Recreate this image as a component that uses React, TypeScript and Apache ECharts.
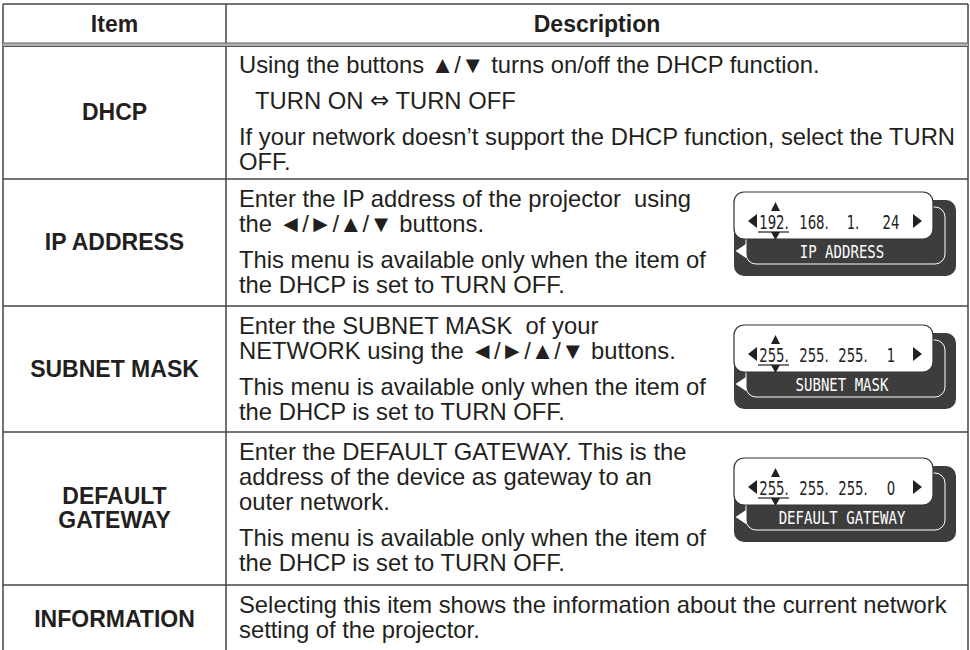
import React, { useEffect, useRef } from "react";
import * as echarts from "echarts";

const headers = ["Item", "Description"];
const itemLabels = ["DHCP", "IP ADDRESS", "SUBNET MASK", "DEFAULT\nGATEWAY", "INFORMATION"];
const rowBounds = [46, 179, 306, 432, 585, 660];

const descDHCP = [
  ["Using the buttons ▲/▼ turns on/off the DHCP function."],
  ["  TURN ON {a|⇔} TURN OFF"],
  ["If your network doesn’t support the DHCP function, select the TURN", "OFF."],
];
const descIP = [
  ["Enter the IP address of the projector  using", "the ◄/►/▲/▼ buttons."],
  ["This menu is available only when the item of", "the DHCP is set to TURN OFF."],
];
const descSubnet = [
  ["Enter the SUBNET MASK  of your", "NETWORK using the ◄/►/▲/▼ buttons."],
  ["This menu is available only when the item of", "the DHCP is set to TURN OFF."],
];
const descGateway = [
  ["Enter the DEFAULT GATEWAY. This is the", "address of the device as gateway to an", "outer network."],
  ["This menu is available only when the item of", "the DHCP is set to TURN OFF."],
];
const descInfo = [
  ["Selecting this item shows the information about the current network", "setting of the projector."],
];
const descriptions = [descDHCP, descIP, descSubnet, descGateway, descInfo];

const osdTitles = ["IP ADDRESS", "SUBNET MASK", "DEFAULT GATEWAY"];
const ipValues = ["192.", "168.", "1.", "24"];
const subnetValues = ["255.", "255.", "255.", "1"];
const gatewayValues = ["255.", "255.", "255.", "0"];
const osdValues = [ipValues, subnetValues, gatewayValues];
const osdTops = [192, 325, 458];

const TEXT = "#231f20";
const LINE = "#444";
const FONT = "'Liberation Sans', Arial, sans-serif";
const OSD_FONT = "'DejaVu Sans Mono', monospace";
const OSD_NUM_FONT = "'DejaVu Sans Condensed', 'DejaVu Sans', sans-serif";

function buildGraphics(): any[] {
  const g: any[] = [];
  const L = 3, R = 968, T = 4, C = 226;
  g.push({ type: "rect", shape: { x: 0, y: 0, width: 970, height: 650 }, style: { fill: "#fff" } });
  g.push({ type: "line", shape: { x1: L, y1: T, x2: R, y2: T }, style: { stroke: LINE, lineWidth: 1.5 } });
  g.push({ type: "line", shape: { x1: L, y1: T, x2: L, y2: 650 }, style: { stroke: LINE, lineWidth: 1.5 } });
  g.push({ type: "line", shape: { x1: R, y1: T, x2: R, y2: 650 }, style: { stroke: LINE, lineWidth: 1.5 } });
  g.push({ type: "line", shape: { x1: C, y1: T, x2: C, y2: 650 }, style: { stroke: LINE, lineWidth: 1.5 } });
  g.push({ type: "rect", shape: { x: L, y: 43, width: R - L, height: 3 }, style: { fill: "#b0b0b0" } });
  g.push({ type: "line", shape: { x1: L, y1: 43, x2: R, y2: 43 }, style: { stroke: "#666", lineWidth: 1 } });
  g.push({ type: "line", shape: { x1: L, y1: 46.5, x2: R, y2: 46.5 }, style: { stroke: "#555", lineWidth: 1 } });
  for (let i = 1; i < rowBounds.length - 1; i++) {
    g.push({ type: "line", shape: { x1: L, y1: rowBounds[i], x2: R, y2: rowBounds[i] }, style: { stroke: LINE, lineWidth: 1.5 } });
  }
  const hs = { fill: TEXT, fontFamily: FONT, fontWeight: "bold", fontSize: 23, align: "center", verticalAlign: "middle" };
  g.push({ type: "text", x: (L + C) / 2, y: 24, style: { ...hs, text: headers[0] } });
  g.push({ type: "text", x: (C + R) / 2, y: 24, style: { ...hs, text: headers[1] } });

  const labelY = [112, 242, 369, 508, 619];
  itemLabels.forEach((lab, i) => {
    const parts = lab.split("\n");
    parts.forEach((p, j) => {
      const y = labelY[i] + (j - (parts.length - 1) / 2) * 24;
      g.push({ type: "text", x: (L + C) / 2, y, style: { ...hs, text: p } });
    });
  });

  descriptions.forEach((paras, i) => {
    let y = rowBounds[i] + (i === 0 ? 18 : 19);
    paras.forEach((lines, pi) => {
      if (pi > 0) y += 11;
      lines.forEach((ln) => {
        const indent = ln.startsWith("  ") ? 16 : 0;
        g.push({
          type: "text",
          x: 239 + indent,
          y,
          style: {
            text: ln.trim(), fill: TEXT, fontFamily: FONT, fontSize: 23.8, align: "left", verticalAlign: "middle",
            rich: { a: { fontFamily: "'DejaVu Sans', sans-serif", fontSize: 23, fill: TEXT, verticalAlign: "middle" } },
          },
        });
        y += 25;
      });
    });
  });

  const slotX = [774, 814, 853, 891];
  osdTops.forEach((top, k) => {
    const children: any[] = [];
    children.push({ type: "rect", shape: { x: 734, y: top + 8, width: 222, height: 76, r: 10 }, style: { fill: "#3d3d3d" } });
    children.push({ type: "rect", shape: { x: 746, y: top + 15, width: 199, height: 57, r: 10 }, style: { fill: "none", stroke: "#fff", lineWidth: 1 } });
    children.push({ type: "rect", shape: { x: 734, y: top, width: 199, height: 47, r: 10 }, style: { fill: "#fff", stroke: "#333", lineWidth: 1.2 } });
    children.push({ type: "polygon", shape: { points: [[735.5, top + 59], [746, top + 52], [746, top + 66]] }, style: { fill: "#fff" } });
    children.push({
      type: "text", x: 842, y: top + 60, scaleX: 0.78,
      style: { text: osdTitles[k], fill: "#fff", fontFamily: OSD_FONT, fontSize: 18, align: "center", verticalAlign: "middle" },
    });
    osdValues[k].forEach((v, j) => {
      children.push({
        type: "text", x: slotX[j], y: top + 30, scaleX: 0.74,
        style: { text: v, fill: "#222", fontFamily: OSD_NUM_FONT, fontSize: 20, align: "center", verticalAlign: "middle" },
      });
    });
    children.push({ type: "polygon", shape: { points: [[748, top + 29], [757, top + 22], [757, top + 36]] }, style: { fill: "#222" } });
    children.push({ type: "polygon", shape: { points: [[922, top + 29], [913, top + 22], [913, top + 36]] }, style: { fill: "#222" } });
    children.push({ type: "polygon", shape: { points: [[775.5, top + 10], [771, top + 19], [780, top + 19]] }, style: { fill: "#222" } });
    children.push({ type: "polygon", shape: { points: [[775.5, top + 48], [771, top + 40], [780, top + 40]] }, style: { fill: "#222" } });
    children.push({ type: "line", shape: { x1: 758, y1: top + 40, x2: 789, y2: top + 40 }, style: { stroke: "#222", lineWidth: 1.2 } });
    g.push({ type: "group", children });
  });
  return g;
}

export default function App() {
  const ref = useRef<HTMLDivElement>(null);
  useEffect(() => {
    if (!ref.current) return;
    const chart = echarts.init(ref.current, null, { renderer: "svg" });
    chart.setOption({ animation: false, graphic: { elements: buildGraphics() } });
    return () => chart.dispose();
  }, []);
  return <div ref={ref} style={{ position: "fixed", left: 0, top: 0, width: 970, height: 650, background: "#fff" }} />;
}
